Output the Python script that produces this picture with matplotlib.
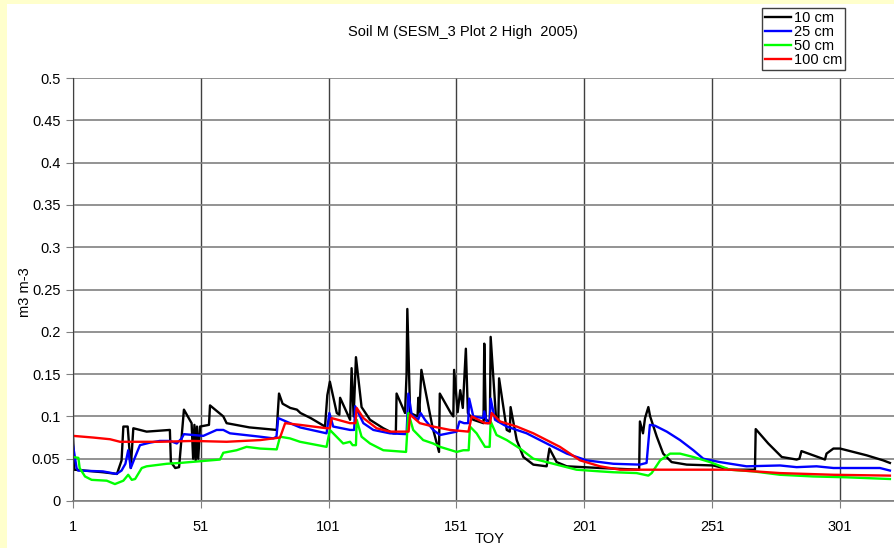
import matplotlib.pyplot as plt
from matplotlib.patches import Rectangle

plt.rcParams['font.family'] = ['Liberation Sans', 'DejaVu Sans']

# soil moisture at 10 cm
toy_10 = [1, 1.5, 12.7, 18.2, 20, 20.7, 22.4, 23.6, 24.6, 29.8, 38.9, 39.3, 41, 42.5, 44.4, 47.4,
          48, 48.5, 49, 49.5, 50, 50.7, 54.2, 54.6, 59.8, 61.1, 70, 80.7, 81.6, 83, 86, 88.6, 90,
          94, 99.6, 100.5, 101.5, 104.2, 105.2, 105.5, 109.4, 110, 110.8, 111.7, 113.9, 117.2, 122.4,
          126.3, 127.3, 127.6, 130.9, 131.5, 131.8, 132.9, 135.8, 136.1, 136.5, 137.3, 141.6, 144.2,
          144.5, 148.8, 149.8, 150.1, 151.5, 152.5, 153.5, 154.7, 155.5, 157.6, 161.6, 161.9, 162.5,
          164.1, 164.4, 166.5, 167.4, 167.7, 170.7, 171.9, 172.2, 174.6, 177.2, 181.1, 186.3, 187.4,
          190.2, 194.2, 207.2, 222.5, 222.8, 224, 224.8, 226.1, 226.8, 229.4, 231.9, 235.2, 241.1,
          251.5, 258, 267.8, 268.1, 273, 278.3, 284.1, 285.2, 286, 295.2, 295.8, 298.5, 301.1,
          311.5, 318, 320.6]
sm_10 = [0.075, 0.037, 0.034, 0.032, 0.048, 0.088, 0.088, 0.039, 0.086, 0.082, 0.084, 0.046, 0.039,
         0.040, 0.108, 0.092, 0.050, 0.090, 0.048, 0.088, 0.050, 0.088, 0.090, 0.113, 0.100, 0.092,
         0.087, 0.084, 0.127, 0.115, 0.110, 0.108, 0.104, 0.098, 0.088, 0.125, 0.141, 0.104, 0.102,
         0.122, 0.096, 0.157, 0.100, 0.170, 0.111, 0.096, 0.086, 0.080, 0.080, 0.127, 0.104, 0.150,
         0.227, 0.104, 0.100, 0.122, 0.105, 0.155, 0.088, 0.058, 0.127, 0.104, 0.100, 0.155, 0.105,
         0.131, 0.110, 0.180, 0.104, 0.096, 0.092, 0.186, 0.096, 0.094, 0.194, 0.098, 0.094, 0.145,
         0.084, 0.082, 0.111, 0.072, 0.052, 0.043, 0.041, 0.062, 0.046, 0.041, 0.039, 0.037, 0.094,
         0.080, 0.098, 0.111, 0.100, 0.076, 0.056, 0.046, 0.043, 0.042, 0.037, 0.037, 0.085, 0.068,
         0.052, 0.049, 0.050, 0.059, 0.049, 0.056, 0.062, 0.062, 0.054, 0.048, 0.045]

# 25 cm
toy_25 = [1, 2.4, 3, 12.7, 18, 20, 21.5, 22.6, 23.6, 25.3, 27.2, 31.1, 35, 39, 41.6, 43.5, 44.4,
          48.1, 52, 57.2, 59.8, 62.4, 74.2, 79.4, 80.6, 81.3, 85.9, 89.8, 100.2, 101.3, 102.8,
          109.4, 111, 111.4, 114.6, 118.5, 125, 131.5, 132.2, 133.5, 136, 137, 138.7, 141.9, 144.6,
          151.1, 152.2, 154, 155.6, 156, 157.6, 161.5, 161.9, 163, 164, 164.4, 166.1, 170.7, 178.5,
          186.3, 194.2, 202, 207.2, 212.4, 222.8, 225.4, 226.7, 228.7, 233.3, 238.5, 243.7, 247.6,
          254.1, 264.5, 277.6, 284.1, 291.9, 298.5, 316.7, 320.6]
sm_25 = [0.066, 0.039, 0.036, 0.035, 0.032, 0.036, 0.044, 0.060, 0.039, 0.052, 0.066, 0.069, 0.071,
         0.071, 0.068, 0.074, 0.079, 0.078, 0.077, 0.084, 0.084, 0.080, 0.076, 0.074, 0.076, 0.098,
         0.092, 0.087, 0.080, 0.104, 0.088, 0.084, 0.084, 0.112, 0.092, 0.084, 0.080, 0.079, 0.127,
         0.102, 0.096, 0.104, 0.096, 0.084, 0.078, 0.082, 0.094, 0.092, 0.092, 0.121, 0.100, 0.098,
         0.106, 0.092, 0.092, 0.121, 0.096, 0.088, 0.080, 0.068, 0.056, 0.048, 0.046, 0.044, 0.043,
         0.045, 0.090, 0.089, 0.082, 0.072, 0.060, 0.050, 0.046, 0.041, 0.042, 0.040, 0.041, 0.039,
         0.039, 0.036]

# 50 cm
toy_50 = [1, 3.1, 3.6, 5.7, 8.3, 14.2, 17.4, 20.7, 22.6, 24, 25.3, 27.9, 29.8, 37.7, 42.9, 50.7,
          58.5, 59.8, 65, 68.9, 74.2, 80.7, 82, 85.9, 89.8, 100.2, 101.5, 102.8, 106.7, 109.4,
          110.4, 111.7, 112, 113.9, 117.2, 122.4, 131.3, 132.2, 134.1, 138, 141.9, 144.6, 151.1,
          153.7, 155.8, 156.3, 158.9, 162.2, 164, 164.4, 166.7, 170.7, 175.9, 181.1, 188.9, 198,
          207.2, 212.4, 221.5, 226.1, 227.4, 230.7, 234.6, 238.5, 243.7, 250.2, 258, 267.2, 277.6,
          290.6, 303.7, 320.6]
sm_50 = [0.052, 0.051, 0.039, 0.029, 0.025, 0.024, 0.020, 0.024, 0.031, 0.025, 0.026, 0.039, 0.041,
         0.044, 0.045, 0.047, 0.049, 0.057, 0.060, 0.064, 0.062, 0.061, 0.076, 0.074, 0.070, 0.064,
         0.084, 0.080, 0.068, 0.070, 0.066, 0.066, 0.096, 0.076, 0.068, 0.060, 0.058, 0.104, 0.084,
         0.072, 0.068, 0.064, 0.058, 0.060, 0.060, 0.088, 0.080, 0.064, 0.064, 0.094, 0.078, 0.072,
         0.062, 0.050, 0.044, 0.037, 0.035, 0.034, 0.033, 0.030, 0.033, 0.048, 0.056, 0.056, 0.052,
         0.046, 0.037, 0.035, 0.031, 0.029, 0.028, 0.026]

# 100 cm
toy_100 = [1, 8.9, 15.5, 19.4, 35, 48.1, 61.1, 74.2, 82, 84, 89.8, 100.2, 101.5, 102.2, 109.4,
           111.5, 112, 114.6, 119.8, 125, 131.3, 132.3, 132.9, 136.7, 141.9, 148.5, 155.7, 157,
           162.2, 164.2, 164.8, 168.1, 174.6, 181.1, 191.5, 199.4, 207.2, 215, 238.5, 258, 277.6,
           298.5, 320.6]
sm_100 = [0.077, 0.075, 0.073, 0.070, 0.070, 0.071, 0.070, 0.072, 0.075, 0.092, 0.090, 0.086, 0.086,
          0.098, 0.092, 0.092, 0.110, 0.098, 0.086, 0.082, 0.082, 0.082, 0.102, 0.092, 0.088, 0.084,
          0.082, 0.100, 0.092, 0.092, 0.104, 0.094, 0.088, 0.080, 0.064, 0.048, 0.041, 0.037, 0.037,
          0.037, 0.033, 0.031, 0.030]

labels = ['10 cm', '25 cm', '50 cm', '100 cm']
colors = ['black', '#0000ff', '#00ff00', '#ff0000']

W, H = 895, 548
fig = plt.figure(figsize=(W / 100, H / 100), dpi=100, facecolor='#ffffcc')
fig.patches.append(Rectangle((7 / W, 0), 1, 1 - 4 / H, transform=fig.transFigure,
                             facecolor='white', edgecolor='none', zorder=-10))

# plot area runs past the right edge of the image
ax = fig.add_axes([73 / W, 47 / H, 835 / W, 423 / H])
ax.set_facecolor('white')

series = [(toy_10, sm_10), (toy_25, sm_25), (toy_50, sm_50), (toy_100, sm_100)]
for (x, y), lab, c in zip(series, labels, colors):
    ax.plot(x, y, color=c, lw=1.7, label=lab)

ax.set_xlim(1, 1 + 835 / 2.556)
ax.set_ylim(0, 0.5)
ax.set_xticks(range(1, 302, 50))
ax.set_yticks([i * 0.05 for i in range(11)])
ax.set_yticklabels(['0', '0.05', '0.1', '0.15', '0.2', '0.25', '0.3', '0.35', '0.4', '0.45', '0.5'])

ax.grid(axis='y', color='#808080', lw=1.2)
ax.grid(axis='x', color='#404040', lw=1.0)
ax.set_axisbelow(True)
for s in ['top', 'right']:
    ax.spines[s].set_visible(False)
ax.spines['left'].set_color('#404040')
ax.spines['bottom'].set_color('#808080')
ax.spines['bottom'].set_linewidth(1.2)
ax.tick_params(axis='both', labelsize=10.5, length=5, color='#808080')
ax.tick_params(axis='x', pad=9)
ax.tick_params(axis='y', pad=4)

fig.text(463 / W, 1 - 32 / H, 'Soil M (SESM_3 Plot 2 High  2005)', ha='center', va='center', fontsize=10.5)
fig.text(490 / W, 1 - 539 / H, 'TOY', ha='center', va='center', fontsize=10.5)
fig.text(25 / W, 1 - 292 / H, 'm3 m-3', ha='center', va='center', rotation=90, fontsize=10.5)

leg = fig.legend(loc='upper left', bbox_to_anchor=(762 / W, 1 - 8 / H), fontsize=10.5,
                 frameon=True, fancybox=False, edgecolor='#404040', framealpha=1,
                 handlelength=1.8, handletextpad=0.2, labelspacing=0.0, borderpad=0.2,
                 borderaxespad=0)
leg.get_frame().set_linewidth(1.0)

fig.savefig('out.png', dpi=100, facecolor=fig.get_facecolor())
